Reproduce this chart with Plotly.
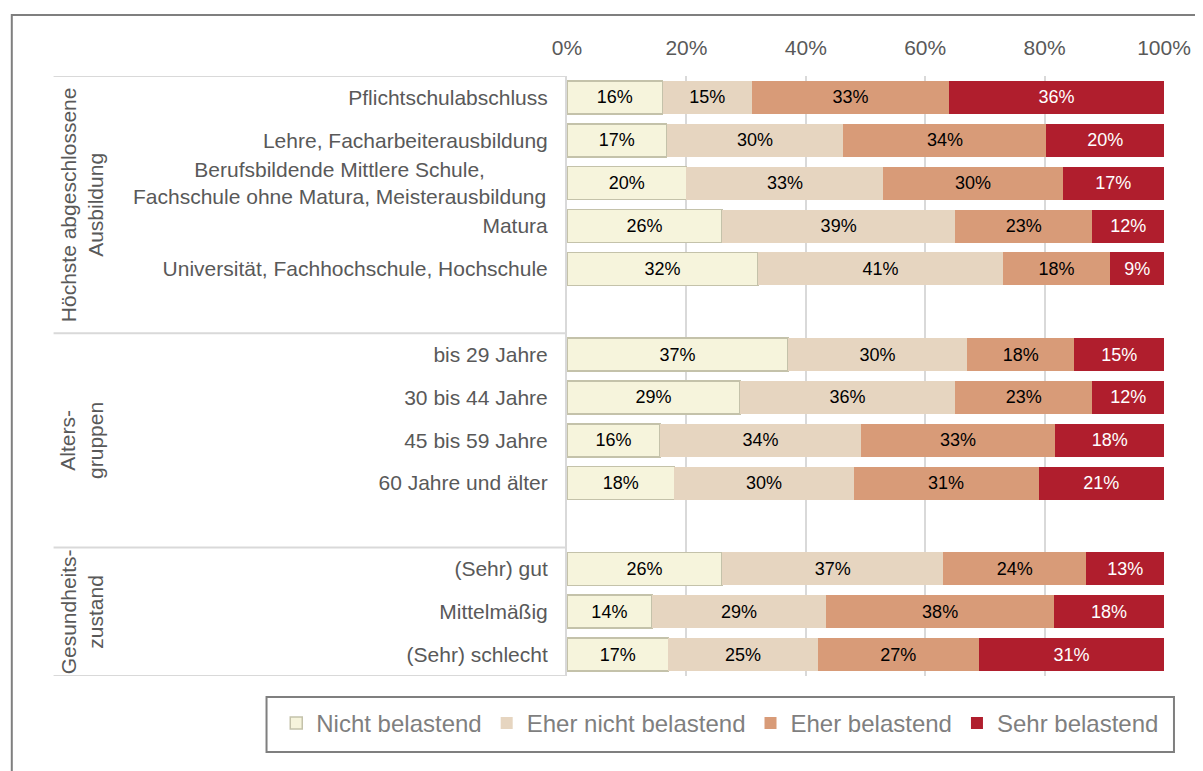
import plotly.graph_objects as go

# rows, top to bottom (empty rows separate the groups)
categories = ["Pflichtschulabschluss", "Lehre, Facharbeiterausbildung",
              "Berufsbildende Mittlere Schule,<br>Fachschule ohne Matura, Meisterausbildung",
              "Matura", "Universität, Fachhochschule, Hochschule", "",
              "bis 29 Jahre", "30 bis 44 Jahre", "45 bis 59 Jahre", "60 Jahre und älter", "",
              "(Sehr) gut", "Mittelmäßig", "(Sehr) schlecht"]
groups = ["Höchste abgeschlossene<br>Ausbildung", "Alters-<br>gruppen", "Gesundheits-<br>zustand"]
group_centers = [2.5, 8, 12]

series = ["Nicht belastend", "Eher nicht belastend", "Eher belastend", "Sehr belastend"]
nicht = [16, 16.7, 20, 26, 32, None, 37, 29, 15.6, 18, None, 26, 14.2, 17]
eher_nicht = [15, 29.6, 33, 39, 41, None, 30, 36, 33.6, 30, None, 37, 29.2, 25]
eher = [33, 34.0, 30, 23, 18, None, 18, 23, 32.6, 31, None, 24, 38.2, 27]
sehr = [36, 19.7, 17, 12, 9, None, 15, 12, 18.2, 21, None, 13, 18.4, 31]

x_ticks = [0, 20, 40, 60, 80, 100]

colors = ["#F6F4DC", "#E6D5C0", "#D89B78", "#B01E2D"]
text_colors = ["black", "black", "black", "white"]
font = "Liberation Sans, Arial, sans-serif"
grey = "#595959"

ypos = list(range(len(categories)))
fig = go.Figure()
for name, vals, col, tcol in zip(series, [nicht, eher_nicht, eher, sehr], colors, text_colors):
    first = name == series[0]
    fig.add_trace(go.Bar(
        y=ypos, x=vals, name=name, orientation="h", width=0.77,
        marker=dict(color=col, line=dict(color="#C4C2AA" if first else col,
                                         width=1.5 if first else 0)),
        texttemplate="%{x:.0f}%", textposition="inside", insidetextanchor="middle",
        textangle=0, textfont=dict(size=18, color=tcol, family=font),
        hoverinfo="skip"))

ticktext = ["" if "<br>" in c else c for c in categories]

# page has an 8px body margin, so the figure is a bit smaller than the window
fig.update_layout(
    width=1195, height=763,
    margin=dict(l=559, r=36, t=68, b=95),
    barmode="stack",
    plot_bgcolor="white", paper_bgcolor="white",
    font=dict(family=font, color=grey),
    showlegend=True,
    legend=dict(orientation="h", x=-0.487, xanchor="left", y=-0.079, yanchor="middle",
                borderwidth=0, bgcolor="rgba(0,0,0,0)",
                font=dict(size=24, color="#7F7F7F"), traceorder="normal"),
    xaxis=dict(side="top", range=[0, 100], tickvals=x_ticks,
               ticktext=[f"{v}%" for v in x_ticks],
               showgrid=True, gridcolor="#D9D9D9", gridwidth=2,
               zeroline=False, showline=False, tickfont=dict(size=21, color=grey),
               ticks="outside", ticklen=12, tickcolor="white", fixedrange=True),
    yaxis=dict(range=[13.5, -0.5], tickvals=ypos, ticktext=ticktext,
               showgrid=False, zeroline=False, showline=True, linecolor="#D9D9D9",
               linewidth=2, tickfont=dict(size=21, color=grey),
               ticks="outside", ticklen=13, tickcolor="white", fixedrange=True),
)

# two-line label, centered like the original
for i, c in enumerate(categories):
    if "<br>" in c:
        fig.add_annotation(x=-0.032, xref="paper", y=i, yref="y", text=c, showarrow=False,
                           xanchor="right", yanchor="middle", align="center",
                           font=dict(size=21, color=grey, family=font))

# group labels
for g, yc in zip(groups, group_centers):
    fig.add_annotation(x=-0.813, xref="paper", y=yc, yref="y", text=g, textangle=-90,
                       showarrow=False, align="center", xanchor="center", yanchor="middle",
                       font=dict(size=21, color=grey, family=font))

# separator lines of the label area
for yy in [-0.5, 5.5, 10.5, 13.5]:
    fig.add_shape(type="line", xref="paper", x0=-0.86, x1=0, yref="y", y0=yy, y1=yy,
                  line=dict(color="#D9D9D9", width=2))

# legend box
fig.add_shape(type="rect", xref="paper", yref="paper", x0=-0.5033, x1=1.0167, y0=-0.1267, y1=-0.035,
              line=dict(color="#7F7F7F", width=2), fillcolor="white", layer="below")

# outer frame
fig.add_shape(type="rect", xref="paper", yref="paper", x0=-0.93, x1=1.08, y0=-0.18, y1=1.1017,
              line=dict(color="#7F7F7F", width=2), layer="below")

fig.write_html("out.html")
